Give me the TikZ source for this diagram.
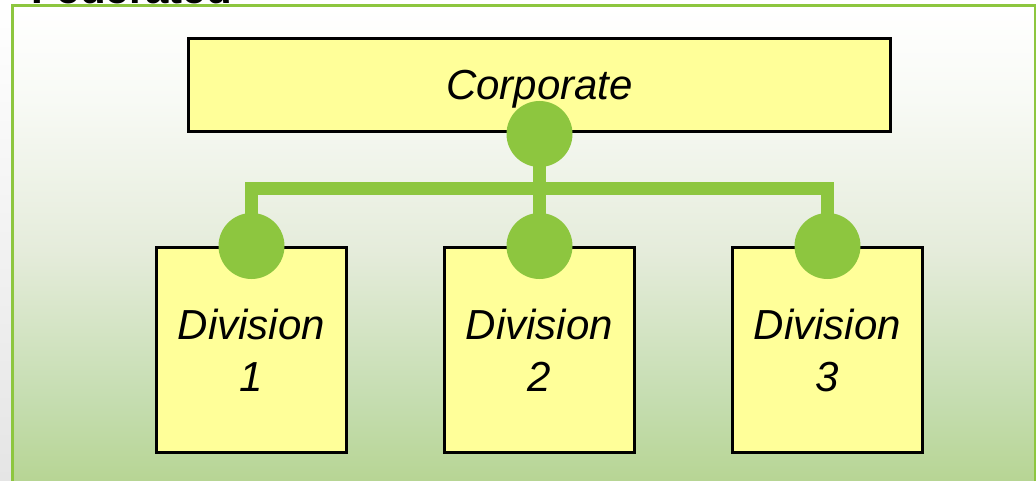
\documentclass[tikz,border=0pt]{standalone}
\usepackage{fontspec}
\setmainfont{Liberation Sans}
\definecolor{pgbot}{RGB}{183,213,148}
\definecolor{pgfour}{RGB}{197,221,176}
\definecolor{pgtwo}{RGB}{229,236,219}
\definecolor{pgone}{RGB}{248,250,245}
\definecolor{stripgray}{RGB}{229,229,229}
\definecolor{boxyellow}{RGB}{255,255,153}
\definecolor{lgreen}{RGB}{141,198,63}
\pgfdeclareverticalshading{panelshade}{100bp}{color(0bp)=(pgbot); color(25bp)=(pgbot); color(33.5bp)=(pgfour); color(49.3bp)=(pgtwo); color(65.1bp)=(pgone); color(75bp)=(white); color(100bp)=(white)}
\begin{document}
\begin{tikzpicture}[x=1pt,y=-1pt,
  box/.style={draw=black,line width=3pt,fill=boxyellow,inner sep=0pt,font=\fontsize{42}{52}\itshape\selectfont,align=center},
  conn/.style={draw=lgreen,line width=13pt},
  knob/.style={circle,fill=lgreen,minimum size=66pt,inner sep=0pt}]
\useasboundingbox (0,0) rectangle (1036,481);
\shade[top color=white,bottom color=stripgray] (0,0) rectangle (11,481);
\shade[shading=panelshade] (12,6) rectangle (1035,481);
\draw[lgreen,line width=3pt] (12,481) -- (12,6) -- (1035,6) -- (1035,481);
\node[anchor=base west,inner sep=0pt,font=\fontsize{42}{48}\bfseries\selectfont] (title) at (31,3.5) {Federated};
\node[box,minimum width=702pt,minimum height=93pt,text height=30pt,text depth=0pt] (corp) at (539.5,85) {Corporate};
\node[box,minimum width=190pt,minimum height=205pt] (d1) at (251.5,350) {Division\\1};
\node[box,minimum width=190pt,minimum height=205pt] (d2) at (539.5,350) {Division\\2};
\node[box,minimum width=190pt,minimum height=205pt] (d3) at (827.5,350) {Division\\3};
\coordinate (bar) at (539.5,189);
\draw[conn] (corp.south) -- (d2.north);
\draw[conn] (d1.north) |- (bar) -| (d3.north);
\node[knob] (k0) at ([yshift=-1pt]corp.south) {};
\node[knob] (k1) at (d1.north) {};
\node[knob] (k2) at (d2.north) {};
\node[knob] (k3) at (d3.north) {};
\end{tikzpicture}
\end{document}
